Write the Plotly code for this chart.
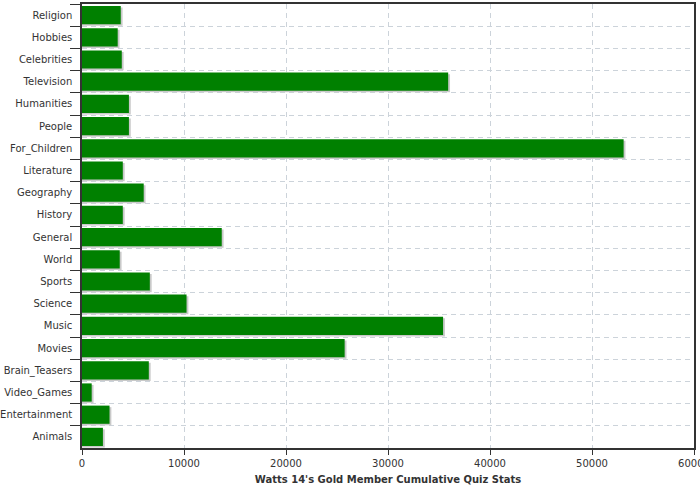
import plotly.graph_objects as go

categories = ["Religion", "Hobbies", "Celebrities", "Television", "Humanities", "People",
              "For_Children", "Literature", "Geography", "History", "General", "World",
              "Sports", "Science", "Music", "Movies", "Brain_Teasers", "Video_Games",
              "Entertainment", "Animals"]
values = [3800, 3500, 3900, 35900, 4600, 4600,
          53100, 4000, 6050, 4000, 13700, 3700,
          6650, 10250, 35400, 25750, 6550, 950,
          2700, 2050]
x_title = "Watts 14's Gold Member Cumulative Quiz Stats"

shadow_dx = 180  # shadow offset in data units (~2px)
bar_w = 0.82

fig = go.Figure()
fig.add_trace(go.Bar(
    y=categories, x=[v + shadow_dx for v in values], orientation="h",
    marker=dict(color="#c9c9c9", line=dict(width=0)),
    width=bar_w, offset=-bar_w / 2 + 0.07, hoverinfo="skip", showlegend=False,
))
fig.add_trace(go.Bar(
    y=categories, x=values, orientation="h",
    marker=dict(color="#008000", line=dict(width=0)),
    width=bar_w, offset=-bar_w / 2, showlegend=False,
))

font_family = "DejaVu Sans"
fig.update_layout(
    width=700, height=500,
    margin=dict(l=82, r=6, t=4, b=52),
    paper_bgcolor="white", plot_bgcolor="white",
    barmode="overlay", bargap=0.18,
    font=dict(family=font_family, size=10, color="#333333"),
)
fig.update_xaxes(
    range=[0, 60000], dtick=10000, tickformat="d", automargin=False,
    ticklabeloverflow="allow",
    showgrid=True, gridcolor="#ccd3da", griddash="5px,4px", gridwidth=1,
    zeroline=False,
    showline=True, linecolor="#333333", linewidth=1.5, mirror=True,
    ticks="outside", ticklen=5, tickcolor="#333333", tickwidth=1,
    tickfont=dict(family=font_family, size=10, color="#333333"),
    title=dict(text="<b>" + x_title + "</b>", font=dict(family=font_family, size=10, color="#333333"), standoff=8),
)
fig.update_yaxes(
    type="category", categoryorder="array", categoryarray=categories,
    autorange="reversed", tickson="boundaries", automargin=False,
    ticklabeloverflow="allow", ticklabelstandoff=6,
    showgrid=True, gridcolor="#ccd3da", griddash="5px,4px", gridwidth=1,
    showline=True, linecolor="#333333", linewidth=1.5, mirror=True,
    ticks="outside", ticklen=10, tickcolor="#333333", tickwidth=1,
    tickfont=dict(family=font_family, size=10, color="#333333"),
)

fig.write_html("out.html", config={"displayModeBar": False},
               post_script="document.body.style.margin='0';")
